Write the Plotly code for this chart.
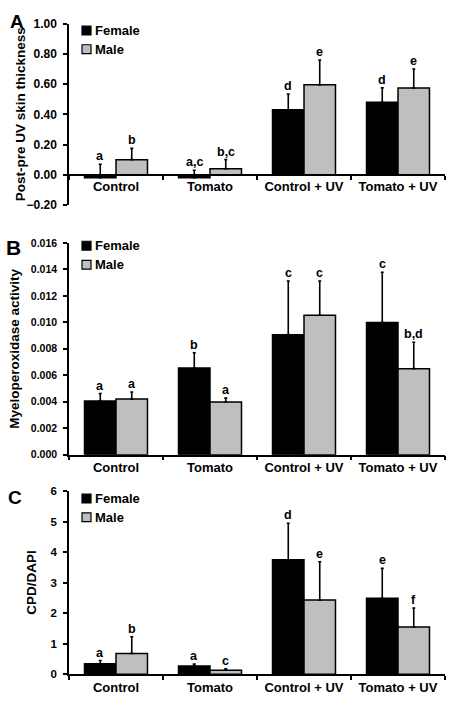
import plotly.graph_objects as go

# ---------------- data ----------------
categories = ["Control", "Tomato", "Control + UV", "Tomato + UV"]
series_names = ["Female", "Male"]

# Panel A: Post-pre UV skin thickness
a_female = [-0.02, -0.02, 0.43, 0.48]
a_female_err = [0.09, 0.05, 0.105, 0.095]
a_male = [0.10, 0.04, 0.595, 0.575]
a_male_err = [0.075, 0.06, 0.165, 0.125]
a_female_letters = ["a", "a,c", "d", "d"]
a_male_letters = ["b", "b,c", "e", "e"]

# Panel B: Myeloperoxidase activity
b_female = [0.00405, 0.00654, 0.00907, 0.00998]
b_female_err = [0.00057, 0.00116, 0.00405, 0.0038]
b_male = [0.0042, 0.00398, 0.01054, 0.0065]
b_male_err = [0.00054, 0.00029, 0.00258, 0.0020]
b_female_letters = ["a", "b", "c", "c"]
b_male_letters = ["a", "a", "c", "b,d"]

# Panel C: CPD/DAPI
c_female = [0.34, 0.27, 3.75, 2.49]
c_female_err = [0.11, 0.06, 1.20, 0.98]
c_male = [0.68, 0.13, 2.43, 1.55]
c_male_err = [0.55, 0.05, 1.26, 0.62]
c_female_letters = ["a", "a", "d", "e"]
c_male_letters = ["b", "c", "e", "f"]

# ---------------- layout constants ----------------
W, H = 452, 708
FONT = "Liberation Sans, Arial, sans-serif"
GRAY = "#bfbfbf"
COLORS = ["black", GRAY]
BARGAP = 0.33

x_left, x_right = 69, 445  # pixel edges of the plotting area


def py(pix):
    return (H - pix) / H


def px(pix):
    return pix / W


panels = [
    dict(key="A", female=a_female, ferr=a_female_err, male=a_male, merr=a_male_err,
         fl=a_female_letters, ml=a_male_letters, yrange=[-0.2, 1.0], dtick=0.2,
         fmt=".2f", top=17, bottom=202, title="Post-pre UV skin thickness",
         title_x=20, tickfont=12, letter_pos=(17, 15), letter_size=19,
         legend_y=(24, 43)),
    dict(key="B", female=b_female, ferr=b_female_err, male=b_male, merr=b_male_err,
         fl=b_female_letters, ml=b_male_letters, yrange=[0, 0.016], dtick=0.002,
         fmt=".3f", top=240.7, bottom=456.7, title="Myeloperoxidase activity",
         title_x=15, tickfont=10.5, letter_pos=(13, 245), letter_size=21,
         legend_y=(243.5, 263)),
    dict(key="C", female=c_female, ferr=c_female_err, male=c_male, merr=c_male_err,
         fl=c_female_letters, ml=c_male_letters, yrange=[0, 6], dtick=1,
         fmt="d", top=494, bottom=680.7, title="CPD/DAPI",
         title_x=32, tickfont=11.5, letter_pos=(15, 500), letter_size=19,
         legend_y=(501.5, 520.5)),
]

fig = go.Figure()
annotations = []
shapes = []
layout_updates = {}

cat_px = (x_right - x_left) / len(categories)
bar_px = cat_px * (1 - BARGAP) / 2
shift = bar_px / 2

for i, p in enumerate(panels, start=1):
    xa = "x" if i == 1 else f"x{i}"
    ya = "y" if i == 1 else f"y{i}"
    xname = "xaxis" if i == 1 else f"xaxis{i}"
    yname = "yaxis" if i == 1 else f"yaxis{i}"

    for name, vals, errs, color in [(series_names[0], p["female"], p["ferr"], COLORS[0]),
                                    (series_names[1], p["male"], p["merr"], COLORS[1])]:
        fig.add_trace(go.Bar(
            x=categories, y=vals, name=name, xaxis=xa, yaxis=ya,
            marker=dict(color=color, line=dict(color="black", width=1.5)),
            error_y=dict(type="data", array=errs, arrayminus=[0] * len(errs),
                         symmetric=False, color="black", thickness=1.6, width=1.5),
            showlegend=False,
        ))

    # significance letters on top of the error bars
    for vals, errs, letters, sgn in [(p["female"], p["ferr"], p["fl"], -1),
                                     (p["male"], p["merr"], p["ml"], 1)]:
        for c, v, e, t in zip(categories, vals, errs, letters):
            annotations.append(dict(
                x=c, y=v + e, xref=xa, yref=ya, text=t, showarrow=False,
                xshift=sgn * shift, yanchor="bottom", yshift=-1,
                font=dict(family=FONT, size=12.5, color="black", weight="bold"),
            ))

    d0, d1 = py(p["bottom"]), py(p["top"])
    ymin, ymax = p["yrange"]
    if ymin < 0:
        xpos = d0 + (0 - ymin) / (ymax - ymin) * (d1 - d0)
        xaxis_extra = dict(anchor="free", position=xpos)
    else:
        xaxis_extra = dict(anchor=ya)

    layout_updates[xname] = dict(
        domain=[x_left / W, x_right / W], type="category", showline=True,
        linecolor="black", linewidth=1.5, ticks="outside", ticklen=4, tickwidth=1.5,
        tickcolor="black", tickson="boundaries", showgrid=False, zeroline=False,
        tickfont=dict(family=FONT, size=13, color="black", weight="bold"),
        fixedrange=True, **xaxis_extra,
    )
    layout_updates[yname] = dict(
        domain=[d0, d1], range=p["yrange"], dtick=p["dtick"], tick0=0,
        tickformat=p["fmt"], anchor=xa, showline=True, linecolor="black",
        linewidth=1.5, ticks="outside", ticklen=4, tickwidth=1.5, tickcolor="black",
        showgrid=False, zeroline=False, ticklabelstandoff=4,
        tickfont=dict(family=FONT, size=p["tickfont"], color="black", weight="bold"),
        fixedrange=True,
    )

    # legend (small outlined squares + labels, as in the reference)
    for name, color, ly in zip(series_names, COLORS, p["legend_y"]):
        shapes.append(dict(
            type="rect", xref="paper", yref="paper",
            x0=px(82), x1=px(91), y0=py(ly + 4.5), y1=py(ly - 4.5),
            fillcolor=color, line=dict(color="black", width=1.2),
        ))
        annotations.append(dict(
            x=px(92.5), y=py(ly), xref="paper", yref="paper", text=name,
            showarrow=False, xanchor="left", yanchor="middle",
            font=dict(family=FONT, size=13, color="black", weight="bold"),
        ))

    # y-axis title
    annotations.append(dict(
        x=p["title_x"] / W, y=(d0 + d1) / 2, xref="paper", yref="paper",
        text=p["title"], textangle=-90, showarrow=False,
        xanchor="center", yanchor="middle",
        font=dict(family=FONT, size=13.5, color="black", weight="bold"),
    ))
    # panel letter
    lx, ly = p["letter_pos"]
    annotations.append(dict(
        x=lx / W, y=py(ly), xref="paper", yref="paper", text=p["key"],
        showarrow=False, xanchor="center", yanchor="middle",
        font=dict(family=FONT, size=p["letter_size"], color="black", weight="bold"),
    ))

fig.update_layout(
    width=W, height=H, margin=dict(l=0, r=0, t=0, b=0),
    paper_bgcolor="white", plot_bgcolor="white",
    barmode="group", bargap=BARGAP, bargroupgap=0,
    annotations=annotations, shapes=shapes, showlegend=False,
    font=dict(family=FONT, color="black"),
    **layout_updates,
)

fig.write_html("out.html", config={"displayModeBar": False},
               post_script="document.body.style.margin='0';")
